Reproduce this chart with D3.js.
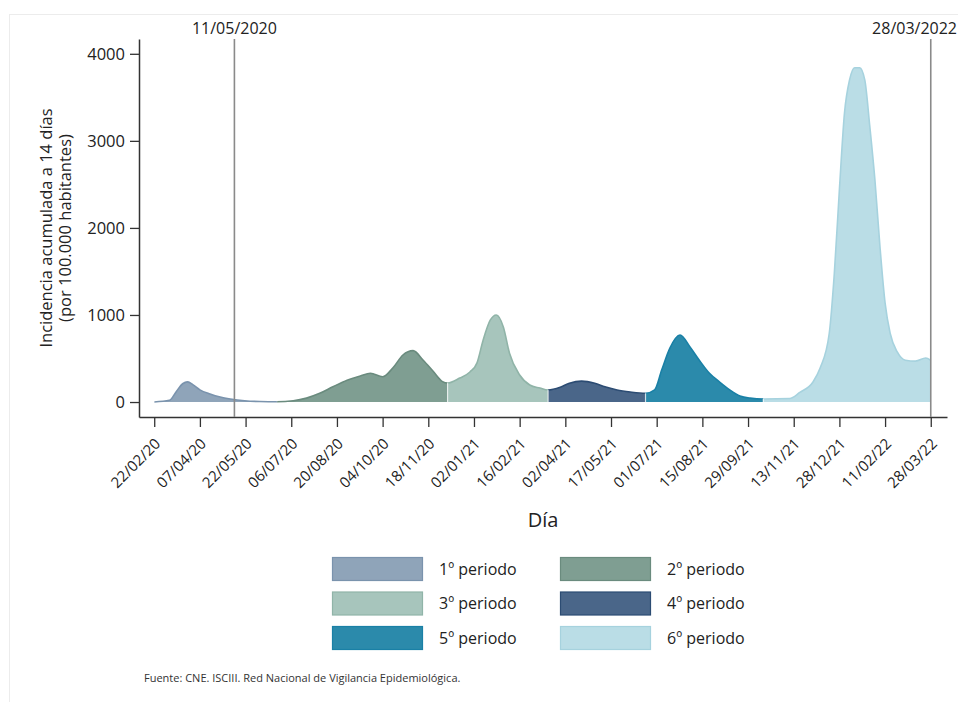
<!DOCTYPE html>
<html>
<head>
<meta charset="utf-8">
<script src="https://cdn.jsdelivr.net/npm/d3@7"></script>
<style>
  html, body { margin: 0; padding: 0; background: #fff; }
  svg { display: block; font-family: "Open Sans", "DejaVu Sans", sans-serif; }
</style>
</head>
<body>
<svg id="chart" width="958" height="702"></svg>
<script>
// Incidencia acumulada a 14 días por 100.000 habitantes (España)
const dates = [
  "2020-02-22","2020-03-08","2020-03-15","2020-03-21","2020-03-26","2020-03-31","2020-04-07",
  "2020-04-17","2020-04-27","2020-05-07","2020-05-21","2020-06-05","2020-06-22",
  "2020-07-08","2020-07-21","2020-08-03","2020-08-16","2020-08-30","2020-09-12","2020-09-22",
  "2020-10-04","2020-10-14","2020-10-24","2020-11-03","2020-11-13","2020-11-23","2020-12-02",
  "2020-12-07","2020-12-19","2020-12-29","2021-01-05","2021-01-11","2021-01-18","2021-01-24",
  "2021-01-31","2021-02-06","2021-02-16","2021-02-26","2021-03-08","2021-03-16",
  "2021-03-28","2021-04-06","2021-04-18","2021-05-01","2021-05-11","2021-05-23","2021-06-05",
  "2021-06-20","2021-06-29","2021-07-06","2021-07-14","2021-07-24","2021-08-03","2021-08-12",
  "2021-08-22","2021-09-01","2021-09-11","2021-09-21","2021-10-01","2021-10-14",
  "2021-11-09","2021-11-19","2021-12-02","2021-12-09","2021-12-18","2021-12-23","2021-12-28",
  "2022-01-02","2022-01-07","2022-01-12","2022-01-17","2022-01-22","2022-01-27","2022-02-01",
  "2022-02-06","2022-02-11","2022-02-16","2022-02-23","2022-03-03","2022-03-13","2022-03-23",
  "2022-03-28"
];
const incidence = [
  1, 20, 125, 210, 232, 200, 140,
  92, 57, 35, 15, 6, 4,
  15, 45, 100, 175, 250, 300, 330,
  290, 390, 540, 590, 480, 350, 235,
  218, 275, 345, 450, 710, 940, 1000,
  860, 560, 310, 195, 160, 138,
  170, 215, 240, 215, 175, 138, 115,
  100, 140, 370, 620, 770, 630, 480,
  330, 230, 140, 70, 45, 35,
  40, 110, 230, 390, 790, 1480, 2440,
  3320, 3700, 3840, 3840, 3700, 3160, 2550,
  1780, 1140, 790, 575, 480, 470, 505,
  480
];

// Límites de los seis periodos
const periodBounds = ["2020-02-22","2020-06-22","2020-12-07","2021-03-16","2021-06-20","2021-10-14","2022-03-28"];
const periodNames = ["1º periodo","2º periodo","3º periodo","4º periodo","5º periodo","6º periodo"];
const periodFill   = ["#8fa4b9","#7f9e92","#a7c5bc","#4a6689","#2b8aab","#badde6"];
const periodStroke = ["#7a93ad","#6a8b7e","#90b4a8","#2c4c73","#1a80a6","#a6d2de"];

const xTicks = ["2020-02-22","2020-04-07","2020-05-22","2020-07-06","2020-08-20","2020-10-04",
  "2020-11-18","2021-01-02","2021-02-16","2021-04-02","2021-05-17","2021-07-01","2021-08-15",
  "2021-09-29","2021-11-13","2021-12-28","2022-02-11","2022-03-28"];
const yTicks = [0, 1000, 2000, 3000, 4000];
const markers = [{date: "2020-05-11", label: "11/05/2020"}, {date: "2022-03-28", label: "28/03/2022"}];

const parse = d3.utcParse("%Y-%m-%d");
const fmt = d3.utcFormat("%d/%m/%y");
const series = dates.map((d, i) => ({date: parse(d), value: incidence[i]}));

const svg = d3.select("#chart");

// marco exterior
svg.append("rect").attr("x", 9.5).attr("y", 14.5).attr("width", 1000).attr("height", 800)
  .attr("fill", "none").attr("stroke", "#ececec");

const x = d3.scaleUtc().domain([parse("2020-02-07"), parse("2022-04-13")]).range([139, 947]);
const y = d3.scaleLinear().domain([-172, 4170]).range([417, 39]);

const area = d3.area().curve(d3.curveMonotoneX)
  .x(d => x(d.date)).y0(y(0)).y1(d => y(d.value));
const line = d3.line().curve(d3.curveMonotoneX)
  .x(d => x(d.date)).y(d => y(d.value));

const defs = svg.append("defs");
periodNames.forEach((name, i) => {
  const x0 = x(parse(periodBounds[i])), x1 = x(parse(periodBounds[i + 1]));
  defs.append("clipPath").attr("id", "clip" + i)
    .append("rect").attr("x", x0).attr("y", 0).attr("width", x1 - x0).attr("height", 500);
  const g = svg.append("g").attr("clip-path", `url(#clip${i})`);
  g.append("path").datum(series).attr("d", area).attr("fill", periodFill[i]);
  g.append("path").datum(series).attr("d", line).attr("fill", "none")
    .attr("stroke", periodStroke[i]).attr("stroke-width", 1.6);
});

// separación entre periodos
periodBounds.slice(1, -1).forEach(b => {
  const d = parse(b);
  const v = series.find(s => +s.date === +d).value;
  svg.append("line").attr("x1", x(d)).attr("x2", x(d)).attr("y1", y(0)).attr("y2", y(v))
    .attr("stroke", "#fff").attr("stroke-opacity", 0.7).attr("stroke-width", 1.2);
});

// eje Y
const yAxis = svg.append("g").attr("transform", "translate(139,0)")
  .call(d3.axisLeft(y).tickValues(yTicks).tickFormat(d3.format("d"))
    .tickSize(9).tickPadding(5).tickSizeOuter(0));
yAxis.select(".domain").attr("stroke", "#333").attr("stroke-width", 1.5);
yAxis.selectAll(".tick line").attr("stroke", "#333").attr("stroke-width", 1.3);
yAxis.selectAll(".tick text").attr("font-size", 16.5).attr("fill", "#222")
  .attr("font-family", "'Open Sans', sans-serif");

// eje X
const xAxis = svg.append("g").attr("transform", "translate(0,417)")
  .call(d3.axisBottom(x).tickValues(xTicks.map(parse)).tickFormat(fmt).tickSize(10).tickSizeOuter(0));
xAxis.select(".domain").attr("stroke", "#333").attr("stroke-width", 1.5);
xAxis.selectAll(".tick line").attr("stroke", "#333").attr("stroke-width", 1.3);
xAxis.selectAll(".tick text").attr("font-size", 15).attr("fill", "#222")
  .attr("font-family", "'Open Sans', sans-serif")
  .attr("text-anchor", "end").attr("x", 0).attr("y", 0).attr("dy", "0.35em")
  .attr("transform", "translate(3,24) rotate(-45)");

// líneas verticales de referencia
markers.forEach((m, i) => {
  const mx = x(parse(m.date));
  svg.append("line").attr("x1", mx).attr("x2", mx).attr("y1", 39).attr("y2", 417)
    .attr("stroke", "#8a8a8a").attr("stroke-width", 1.6);
  const last = i === markers.length - 1;
  svg.append("text").attr("x", last ? 957 : mx).attr("y", 34)
    .attr("text-anchor", last ? "end" : "middle")
    .attr("font-size", 16).attr("fill", "#222").text(m.label);
});

// títulos de ejes
const yt = svg.append("text").attr("transform", "translate(52,228) rotate(-90)")
  .attr("text-anchor", "middle").attr("font-size", 16.5).attr("fill", "#222");
yt.append("tspan").attr("x", 0).attr("dy", 0).text("Incidencia acumulada a 14 días");
yt.append("tspan").attr("x", 0).attr("dy", 19).text("(por 100.000 habitantes)");

svg.append("text").attr("x", 543).attr("y", 527).attr("text-anchor", "middle")
  .attr("font-size", 20).attr("fill", "#222").text("Día");

// leyenda
periodNames.forEach((name, i) => {
  const col = i % 2, row = Math.floor(i / 2);
  const lx = col === 0 ? 332 : 560;
  const ly = 557 + row * 34.5;
  svg.append("rect").attr("x", lx + 0.5).attr("y", ly + 0.5).attr("width", 90).attr("height", 23)
    .attr("fill", periodFill[i]).attr("stroke", periodStroke[i]).attr("stroke-width", 1.2);
  svg.append("text").attr("x", lx + 107).attr("y", ly + 12).attr("dy", "0.35em")
    .attr("font-size", 16).attr("fill", "#222").text(name);
});

svg.append("text").attr("x", 144).attr("y", 682)
  .attr("font-size", 11).attr("fill", "#333")
  .text("Fuente: CNE. ISCIII. Red Nacional de Vigilancia Epidemiológica.");
</script>
</body>
</html>
